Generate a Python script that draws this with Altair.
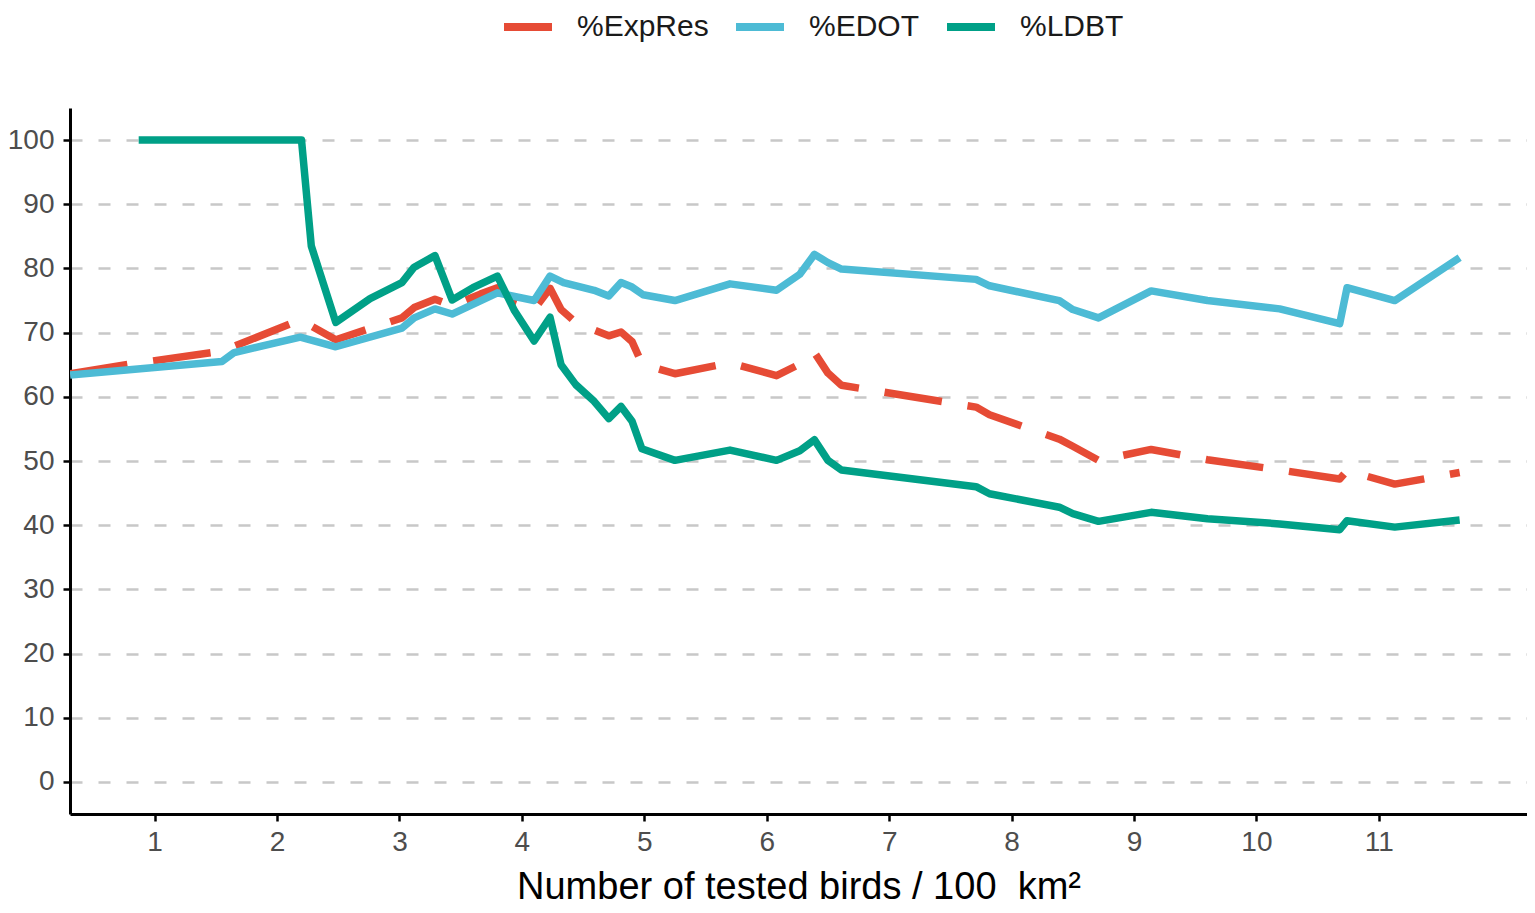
import altair as alt
import pandas as pd

SERIES = ["%ExpRes", "%EDOT", "%LDBT"]
COLORS = ["#E64B35", "#4DBBD5", "#00A087"]

EXPRES_X = [0.31, 0.80, 1.55, 2.19, 2.48, 3.02, 3.12, 3.29, 3.43, 3.66, 3.80, 3.95, 4.10, 4.23, 4.32,
            4.44, 4.59, 4.71, 4.81, 4.90, 4.98, 5.07, 5.25, 5.70, 6.08, 6.27, 6.39, 6.50, 6.61, 7.71,
            7.82, 8.39, 8.50, 8.71, 9.14, 9.60, 10.19, 10.68, 10.74, 11.13, 11.66]
EXPRES_Y = [63.6, 65.1, 67.1, 72.0, 68.9, 72.3, 73.9, 75.2, 74.2, 76.0, 77.0, 74.7, 73.6, 76.9, 73.6,
            71.6, 70.4, 69.5, 70.1, 68.6, 65.2, 64.6, 63.6, 65.3, 63.3, 65.1, 66.9, 63.7, 61.8, 58.4,
            57.2, 53.4, 52.3, 50.1, 51.8, 50.2, 48.6, 47.2, 48.5, 46.4, 48.2]

EDOT_X = [0.31, 1.55, 1.65, 2.19, 2.48, 3.02, 3.12, 3.29, 3.43, 3.80, 4.10, 4.23, 4.34, 4.59, 4.71,
          4.81, 4.90, 4.99, 5.25, 5.70, 6.08, 6.27, 6.39, 6.50, 6.61, 7.71, 7.82, 8.39, 8.50, 8.71,
          9.14, 9.60, 10.19, 10.68, 10.74, 11.13, 11.66]
EDOT_Y = [63.4, 65.5, 66.9, 69.3, 67.8, 70.7, 72.3, 73.7, 72.9, 76.2, 75.0, 78.8, 77.8, 76.6, 75.7,
          77.8, 77.1, 75.9, 75.0, 77.6, 76.6, 79.1, 82.2, 80.9, 79.9, 78.3, 77.3, 75.0, 73.6, 72.3,
          76.5, 75.0, 73.7, 71.4, 77.0, 75.0, 81.7]

LDBT_X = [0.87, 2.20, 2.28, 2.48, 2.76, 3.02, 3.12, 3.29, 3.43, 3.60, 3.80, 3.94, 4.10, 4.23, 4.32,
          4.44, 4.59, 4.71, 4.81, 4.90, 4.98, 5.25, 5.70, 6.08, 6.27, 6.39, 6.50, 6.61, 7.71, 7.82,
          8.39, 8.50, 8.71, 9.14, 9.60, 10.19, 10.68, 10.74, 11.13, 11.66]
LDBT_Y = [100.0, 100.0, 83.5, 71.6, 75.3, 77.8, 80.2, 82.0, 75.1, 77.0, 78.8, 73.4, 68.7, 72.4, 65.0,
          61.9, 59.3, 56.6, 58.5, 56.2, 51.9, 50.1, 51.7, 50.1, 51.6, 53.3, 50.1, 48.6, 46.0, 44.9,
          42.8, 41.8, 40.6, 42.0, 41.0, 40.2, 39.3, 40.7, 39.7, 40.8]

Y_TICKS = list(range(0, 101, 10))
X_TICKS = list(range(1, 12))
X_TITLE = "Number of tested birds / 100\u00a0 km²"

rows = []
for name, xs, ys in [(SERIES[0], EXPRES_X, EXPRES_Y), (SERIES[1], EDOT_X, EDOT_Y), (SERIES[2], LDBT_X, LDBT_Y)]:
    for i, (xv, yv) in enumerate(zip(xs, ys)):
        rows.append({"series": name, "x": xv, "y": yv, "i": i})
df = pd.DataFrame(rows)

FONT = "Liberation Sans"

x_enc = alt.X("x:Q",
              scale=alt.Scale(domain=[0.309, 12.21], nice=False, zero=False),
              axis=alt.Axis(values=X_TICKS, title=X_TITLE,
                            grid=False, labelFontSize=28, titleFontSize=38,
                            labelPadding=7, titlePadding=12, tickSize=7,
                            labelFlush=False))
y_enc = alt.Y("y:Q",
              scale=alt.Scale(domain=[-5, 105], nice=False, zero=False),
              axis=alt.Axis(values=Y_TICKS, title=None, grid=True,
                            gridDash=[12, 16], gridColor="#C8C8C8", gridWidth=2.5,
                            labelFontSize=28, labelPadding=9, tickSize=7))
color_enc = alt.Color("series:N",
                      scale=alt.Scale(domain=SERIES, range=COLORS),
                      legend=alt.Legend(title=None, orient="none", direction="horizontal",
                                        legendX=430, legendY=-109,
                                        labelFontSize=30, labelFont=FONT, labelColor="#1a1a1a",
                                        symbolType="stroke", symbolSize=2304,
                                        symbolStrokeWidth=8, labelOffset=21,
                                        columnPadding=11, padding=0))

base = alt.Chart(df)
layers = []
for s in SERIES:
    props = dict(strokeWidth=7.5, strokeCap="butt", strokeJoin="round", clip=True)
    if s == "%ExpRes":
        props["strokeDash"] = [58, 26]
    layers.append(
        base.transform_filter(alt.datum.series == s)
        .mark_line(**props)
        .encode(x=x_enc, y=y_enc, color=color_enc, order="i:Q")
    )

chart = alt.layer(*layers).properties(
    width=1457, height=706,
    autosize=alt.AutoSizeParams(type="none"),
    padding={"left": 62, "top": 100, "right": 0, "bottom": 91},
).configure_view(stroke=None).configure_axis(
    labelFont=FONT, titleFont=FONT, labelColor="#4D4D4D", titleColor="#000000",
    titleFontWeight="normal", domainColor="#000000", domainWidth=3,
    tickColor="#000000", tickWidth=2.5,
)

chart.save("out.html", embed_options={"renderer": "svg", "actions": False})
